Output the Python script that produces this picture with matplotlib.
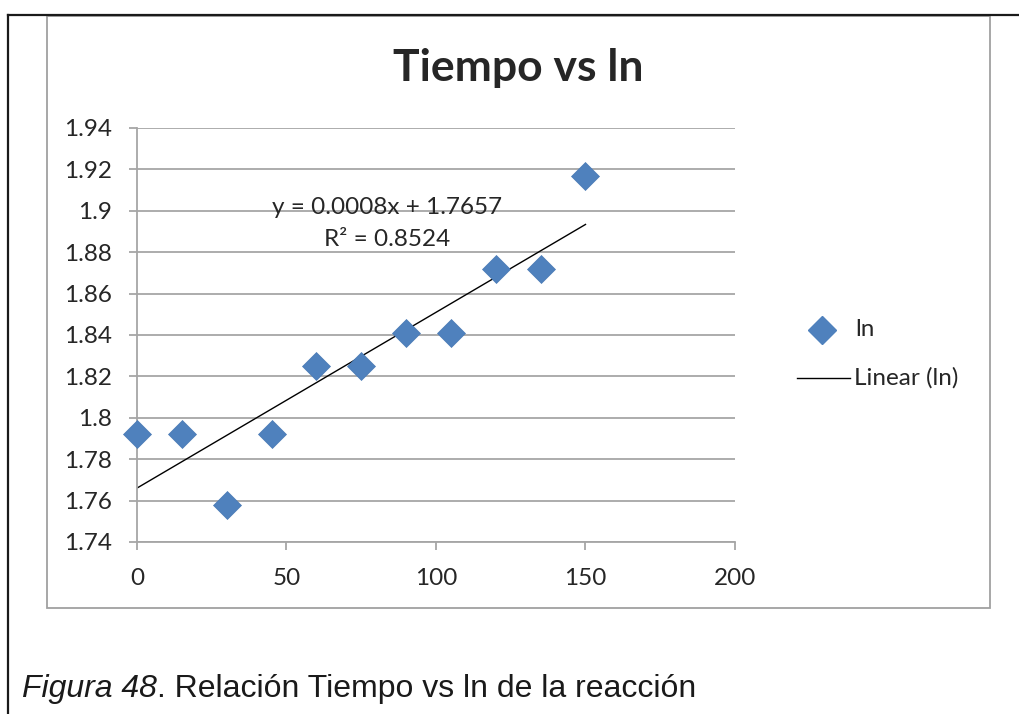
import numpy as np
import matplotlib.pyplot as plt
from matplotlib.lines import Line2D
from matplotlib.patches import Rectangle

# datos
tiempo = [0, 15, 30, 45, 60, 75, 90, 105, 120, 135, 150]
ln_vals = [1.792, 1.792, 1.758, 1.792, 1.825, 1.825, 1.841, 1.841, 1.872, 1.872, 1.917]
y_ticks = [1.74, 1.76, 1.78, 1.80, 1.82, 1.84, 1.86, 1.88, 1.90, 1.92, 1.94]
y_labels = ["1.74", "1.76", "1.78", "1.8", "1.82", "1.84", "1.86", "1.88", "1.9", "1.92", "1.94"]
x_ticks = [0, 50, 100, 150, 200]
eq_text = "y = 0.0008x + 1.7657"
r2_text = "R² = 0.8524"

blue = "#4F81BD"
grid_gray = "#A6A6A6"
font = "Lato"
fs = 17.5

fig = plt.figure(figsize=(10.2, 7.14), dpi=100)

# marco exterior del documento
fig.add_artist(Line2D([8 / 1020, 1.0], [1 - 15 / 714, 1 - 15 / 714], color="#1a1a1a", lw=1.6))
fig.add_artist(Line2D([8 / 1020, 8 / 1020], [0, 1 - 15 / 714], color="#1a1a1a", lw=1.6))

# borde del grafico
fig.add_artist(Rectangle((47 / 1020, 1 - 608 / 714), (990 - 47) / 1020, (608 - 16) / 714,
                         fill=False, edgecolor="#A0A0A0", lw=1.3))

ax = fig.add_axes([137 / 1020, 1 - 542 / 714, (735 - 137) / 1020, (542 - 128) / 714])

# linea de tendencia
m, b = np.polyfit(tiempo, ln_vals, 1)
xt = np.array([tiempo[0], tiempo[-1]])
ax.plot(xt, m * xt + b, color="black", lw=1.0, zorder=2)

ax.plot(tiempo, ln_vals, linestyle="none", marker="D", markersize=14,
        color=blue, markeredgecolor="#4A7AB5", markeredgewidth=0.5, zorder=3, clip_on=False)

ax.set_xlim(0, 200)
ax.set_ylim(1.74, 1.94)
ax.set_yticks(y_ticks)
ax.set_yticklabels(y_labels)
ax.set_xticks(x_ticks)
for s in ["top", "right"]:
    ax.spines[s].set_visible(False)
for s in ["left", "bottom"]:
    ax.spines[s].set_color(grid_gray)
    ax.spines[s].set_linewidth(1.3)
ax.yaxis.grid(True, color=grid_gray, lw=1.3)
ax.set_axisbelow(True)
ax.tick_params(axis="both", colors=grid_gray, width=1.3, length=6, labelcolor="#262626",
               labelsize=fs)
ax.tick_params(axis="y", pad=12)
ax.tick_params(axis="x", pad=13)
for lbl in ax.get_xticklabels() + ax.get_yticklabels():
    lbl.set_fontfamily(font)

fig.text(387 / 1020, 1 - 207 / 714, eq_text, ha="center", va="center",
         fontsize=fs, family=font, color="#262626")
fig.text(387 / 1020, 1 - 240 / 714, r2_text, ha="center", va="center",
         fontsize=fs, family=font, color="#262626")

fig.text(518 / 1020, 1 - 68 / 714, "Tiempo vs ln", ha="center", va="center",
         fontsize=32, fontweight="bold", family=font, color="#262626")

# leyenda
fig.add_artist(Line2D([822 / 1020], [1 - 330 / 714], marker="D", markersize=14, color=blue,
                      linestyle="none"))
fig.text(855 / 1020, 1 - 330 / 714, "ln", ha="left", va="center", fontsize=fs,
         family=font, color="#262626")
fig.add_artist(Line2D([797 / 1020, 850 / 1020], [1 - 378 / 714, 1 - 378 / 714],
                      color="black", lw=1.0))
fig.text(854 / 1020, 1 - 378 / 714, "Linear (ln)", ha="left", va="center", fontsize=fs,
         family=font, color="#262626")

# pie de figura
cap_y = 1 - 697 / 714
t1 = fig.text(22 / 1020, cap_y, "Figura 48", ha="left", va="baseline", fontsize=23,
              style="italic", family="Liberation Sans", color="#1a1a1a")
bb = t1.get_window_extent(renderer=fig.canvas.get_renderer())
fig.text(bb.x1 / 1020, cap_y, ". Relación Tiempo vs ln de la reacción", ha="left",
         va="baseline", fontsize=23, family="Liberation Sans", color="#1a1a1a")

fig.savefig("out.png", dpi=100)
